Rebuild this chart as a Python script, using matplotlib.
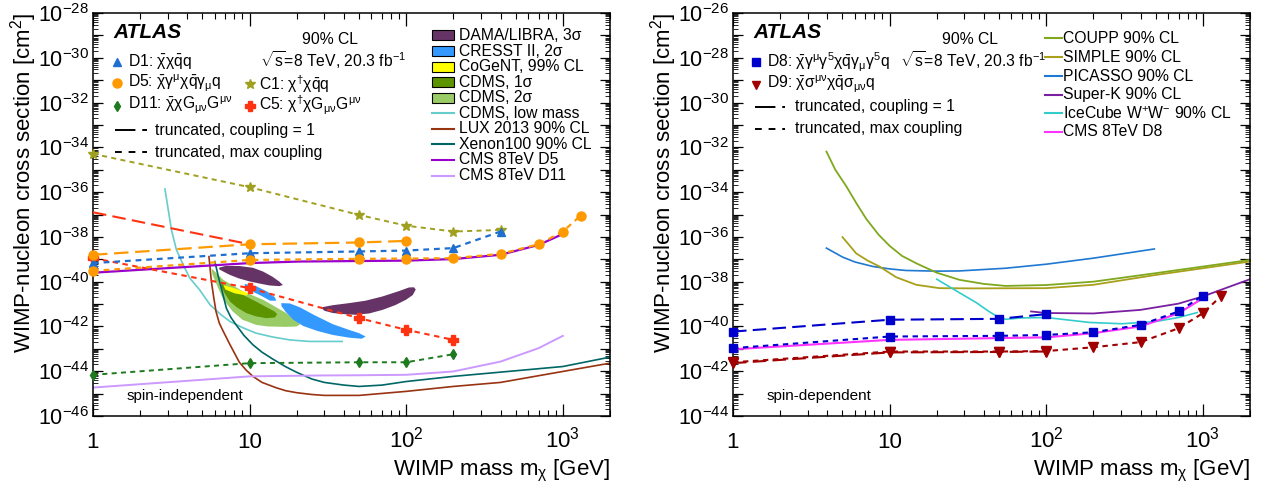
import numpy as np
import matplotlib
matplotlib.use('Agg')
import matplotlib.pyplot as plt
from matplotlib.lines import Line2D
from matplotlib.patches import Rectangle
from matplotlib.ticker import LogLocator, FixedLocator, FuncFormatter, NullFormatter

plt.rcParams['font.family'] = ['Liberation Sans', 'DejaVu Sans']
plt.rcParams['mathtext.fontset'] = 'custom'
plt.rcParams['mathtext.rm'] = 'Liberation Sans'
plt.rcParams['mathtext.it'] = 'Liberation Sans:italic'
plt.rcParams['mathtext.bf'] = 'Liberation Sans:bold'
plt.rcParams['mathtext.default'] = 'regular'

# ---------------- spin-independent (left) : log10(sigma / cm^2) ----------------
d5_c1_m = [1, 10, 50, 100]
d5_c1_s = [-38.8, -38.33, -38.25, -38.18]
d5_mx_m = [1, 10, 50, 100, 200, 400, 700, 1000, 1300]
d5_mx_s = [-39.52, -39.03, -38.98, -38.97, -38.95, -38.76, -38.33, -37.76, -37.05]
d1_mx_m = [1, 10, 50, 100, 200, 400]
d1_mx_s = [-39.17, -38.73, -38.65, -38.61, -38.5, -37.76]
c1_mx_m = [1, 10, 50, 100, 200, 400]
c1_mx_s = [-34.29, -35.78, -37.02, -37.5, -37.76, -37.69]
c5_c1_m = [1, 10]
c5_c1_s = [-36.9, -38.33]
c5_mx_m = [1, 10, 50, 100, 200]
c5_mx_s = [-38.95, -40.29, -41.63, -42.15, -42.6]
d11_mx_m = [1, 10, 50, 100, 200]
d11_mx_s = [-44.16, -43.64, -43.6, -43.6, -43.24]

cms_d5_m = [1, 10, 21, 100, 200, 400, 700, 1000]
cms_d5_s = [-39.6, -39.17, -39.1, -39.06, -38.99, -38.8, -38.36, -37.87]
cms_d11_m = [1, 10, 28, 50, 100, 200, 400, 700, 1000]
cms_d11_s = [-44.73, -44.23, -44.19, -44.18, -44.16, -44.01, -43.57, -42.97, -42.42]
lux_m = [5.5, 5.6, 5.7, 5.9, 6.1, 6.4, 6.8, 7.5, 8.6, 9.5, 10.5, 12, 14.8, 17, 20, 25, 30, 50,
         100, 200, 400, 1000, 2000]
lux_s = [-38.88, -39.45, -39.99, -40.7, -41.33, -41.85, -42.23, -42.82, -43.6, -43.95, -44.23,
         -44.5, -44.74, -44.87, -44.96, -45.04, -45.08, -45.08, -44.9, -44.68, -44.5, -44.01, -43.64]
xenon_m = [6.0, 6.3, 6.6, 7.1, 7.6, 8.2, 9.2, 10.5, 12, 14, 17, 20, 25, 30, 40, 50, 70, 100, 200,
           1000, 2000]
xenon_s = [-39.1, -39.75, -40.29, -41.18, -41.6, -41.93, -42.4, -42.82, -43.15, -43.45, -43.8,
           -44.05, -44.35, -44.5, -44.62, -44.68, -44.62, -44.46, -44.23, -43.79, -43.37]
cdms_low_m = [2.88, 3.17, 3.41, 3.8, 4.15, 4.8, 5.6, 6.5, 7.5, 9, 11, 14, 18, 24, 39]
cdms_low_s = [-35.86, -37.69, -38.58, -39.3, -39.84, -40.37, -41.04, -41.45, -41.78, -42.05,
              -42.3, -42.47, -42.6, -42.67, -42.67]

dama1_m = [6.4, 7.0, 8.6, 10.5, 12.2, 14, 15.5, 16.3, 15.5, 13.4, 11.5, 10, 8.5, 7.5, 6.8, 6.4]
dama1_s = [-39.37, -39.3, -39.3, -39.38, -39.55, -39.78, -40.0, -40.15, -40.2, -40.17, -40.08,
           -39.99, -39.85, -39.7, -39.55, -39.45]
dama2_m = [28.6, 34, 43, 55, 70.6, 90, 104, 112, 115, 110, 99.5, 85, 70.6, 58, 47.8, 40, 34, 30]
dama2_s = [-41.15, -41.05, -40.96, -40.85, -40.66, -40.42, -40.26, -40.25, -40.35, -40.6, -40.81,
           -41.05, -41.26, -41.42, -41.48, -41.45, -41.4, -41.3]
cresst1_m = [9.3, 11, 13, 14.5, 14.8, 13.5, 12, 10.5, 9.3]
cresst1_s = [-40.1, -40.2, -40.45, -40.7, -40.85, -40.85, -40.65, -40.45, -40.25]
cresst2_m = [15.9, 18, 21, 26, 34, 43, 50, 55, 52, 43, 34, 27, 22, 19, 17, 16]
cresst2_s = [-40.96, -40.97, -41.15, -41.5, -41.9, -42.15, -42.3, -42.45, -42.55, -42.5, -42.38,
             -42.2, -41.98, -41.7, -41.35, -41.1]
cogent_m = [6.8, 8, 9.0, 9.8, 9.6, 8, 7.0]
cogent_s = [-40.15, -40.3, -40.42, -40.52, -40.62, -40.52, -40.35]
cdms2_m = [5.7, 6.8, 9.1, 12.2, 17.1, 20.3, 21, 20, 17.1, 13, 11, 9, 7.8, 6.8, 6.3, 5.8]
cdms2_s = [-39.4, -39.92, -40.44, -40.81, -41.4, -41.78, -41.9, -42.0, -42.02, -42.0, -41.93,
           -41.7, -41.33, -40.8, -40.29, -39.7]
cdms1_m = [6.6, 7.5, 8.6, 11, 14.4, 15, 14.5, 12.8, 11, 9.5, 8.3, 7.5, 6.9, 6.6]
cdms1_s = [-40.07, -40.3, -40.51, -40.89, -41.33, -41.45, -41.6, -41.63, -41.55, -41.4, -41.15,
           -40.89, -40.5, -40.2]

# ---------------- spin-dependent (right) ----------------
d8_c1_m = [1, 10, 50, 100]
d8_c1_s = [-40.23, -39.7, -39.66, -39.45]
d8_mx_m = [1, 10, 50, 100, 200, 400, 700, 1000]
d8_mx_s = [-40.97, -40.45, -40.42, -40.38, -40.26, -39.93, -39.33, -38.62]
d9_c1_m = [1, 10, 50, 100]
d9_c1_s = [-41.64, -41.16, -41.14, -41.12]
d9_mx_m = [1, 10, 50, 100, 200, 400, 700, 1000, 1300]
d9_mx_s = [-41.6, -41.12, -41.12, -41.1, -40.93, -40.7, -40.08, -39.41, -38.66]
cms_d8_m = [1, 10, 50, 100, 200, 400, 700, 1000]
cms_d8_s = [-41.02, -40.6, -40.52, -40.49, -40.3, -40.0, -39.41, -38.74]
superk_m = [80, 100, 200, 400, 700, 1000, 2000]
superk_s = [-39.33, -39.4, -39.42, -39.26, -38.98, -38.66, -37.89]
icecube_m = [20, 28, 36, 43, 50, 55, 70, 100, 188, 303, 500, 700, 920]
icecube_s = [-37.89, -38.5, -38.95, -39.33, -39.6, -39.68, -39.62, -39.6, -39.82, -39.88, -39.78,
             -39.6, -39.38]
picasso_m = [3.95, 5, 6, 7.8, 10, 12.7, 20, 28, 55, 100, 200, 490]
picasso_s = [-36.5, -36.9, -37.12, -37.32, -37.43, -37.5, -37.53, -37.52, -37.4, -37.22, -36.95,
             -36.54]
coupp_m = [3.95, 4.5, 5.3, 6.2, 7.1, 8.5, 10, 12, 15, 20, 28, 40, 55, 100, 200, 500, 2000]
coupp_s = [-32.19, -33.0, -33.75, -34.55, -35.2, -35.9, -36.4, -36.85, -37.2, -37.6, -37.92,
           -38.1, -38.19, -38.15, -38.0, -37.62, -37.03]
simple_m = [5.0, 5.5, 6.1, 7.2, 8.6, 11, 14.8, 20.8, 34, 100, 200, 500, 2000]
simple_s = [-36.01, -36.35, -36.73, -37.05, -37.32, -37.8, -38.14, -38.29, -38.3, -38.29, -38.14,
            -37.7, -37.1]

W, H = 1268, 488
fig = plt.figure(figsize=(W / 100, H / 100), dpi=100)
axL = fig.add_axes([93 / W, 1 - 416 / H, 517 / W, 403 / H])
axR = fig.add_axes([733 / W, 1 - 416 / H, 517 / W, 403 / H])

LONG = (0, (6.5, 3.0))
SHORT = (0, (2.6, 2.2))


def sig(v):
    return 10.0 ** np.asarray(v)


def curve(ax, m, s, **kw):
    ax.plot(m, sig(s), **kw)


def style_axis(ax, ylo, yhi, tag):
    ax.set_xscale('log')
    ax.set_yscale('log')
    ax.set_xlim(1, 2000)
    ax.set_ylim(10.0 ** ylo, 10.0 ** yhi)
    ax.set_xticks([1, 10, 100, 1000], ['1', '10', '$10^{2}$', '$10^{3}$'], va='baseline', fontsize=16)
    ax.xaxis.set_minor_locator(LogLocator(base=10, subs=np.arange(2, 10), numticks=50))
    ax.xaxis.set_minor_formatter(NullFormatter())
    ax.yaxis.set_major_locator(FixedLocator(10.0 ** np.arange(ylo, yhi + 1)))
    ax.yaxis.set_major_formatter(FuncFormatter(
        lambda v, p: '$10^{%d}$' % round(np.log10(v)) if round(np.log10(v)) % 2 == 0 else ''))
    ax.yaxis.set_minor_locator(LogLocator(base=10, subs=np.arange(2, 10), numticks=200))
    ax.yaxis.set_minor_formatter(NullFormatter())
    ax.tick_params(axis='both', which='both', direction='in', top=True, right=True)
    ax.tick_params(axis='x', which='major', length=9, width=0.9, pad=23)
    ax.tick_params(axis='x', which='minor', length=4.5, width=0.8)
    ax.tick_params(axis='y', which='major', length=7, width=0.9, pad=3, labelsize=15.5)
    ax.tick_params(axis='y', which='minor', length=3.5, width=0.6)
    for sp in ax.spines.values():
        sp.set_linewidth(1.1)
    ax.set_xlabel(r'WIMP mass m$_{\chi}$ [GeV]', fontsize=16, loc='right')
    ax.xaxis.set_label_coords(1.0, -0.105)
    ax.set_ylabel('WIMP-nucleon cross section [cm$^{2}$]', fontsize=16, loc='top')
    ax.yaxis.set_label_coords(-0.105, 1.0)
    ax.text(0.064, 0.05, tag, transform=ax.transAxes, fontsize=11, ha='left', va='center')


# ---------------- left panel ----------------
ax = axL
ax.fill(cdms2_m, sig(cdms2_s), color='#99cc66', lw=0, zorder=1)
ax.fill(cdms1_m, sig(cdms1_s), color='#5c9400', lw=0, zorder=1.1)
ax.fill(cogent_m, sig(cogent_s), color='#ffff00', lw=0, zorder=1.2)
ax.fill(cresst1_m, sig(cresst1_s), color='#3399ff', lw=0, zorder=1.3)
ax.fill(cresst2_m, sig(cresst2_s), color='#3399ff', lw=0, zorder=1.3)
ax.fill(dama1_m, sig(dama1_s), color='#663366', lw=0, zorder=1.4)
ax.fill(dama2_m, sig(dama2_s), color='#663366', lw=0, zorder=1.4)

curve(ax, cdms_low_m, cdms_low_s, color='#66cccc', lw=1.2, zorder=1.6)
curve(ax, lux_m, lux_s, color='#993311', lw=1.2, zorder=1.7)
curve(ax, xenon_m, xenon_s, color='#006666', lw=1.2, zorder=1.7)
curve(ax, cms_d5_m, cms_d5_s, color='#9900cc', lw=1.6, zorder=1.8)
curve(ax, cms_d11_m, cms_d11_s, color='#cc99ff', lw=1.4, zorder=1.8)

curve(ax, c1_mx_m, c1_mx_s, color='#a0a020', lw=1.4, ls=SHORT, marker='*', ms=7, zorder=3, clip_on=False)
curve(ax, c5_c1_m, c5_c1_s, color='#ff3311', lw=1.5, ls=LONG, zorder=3, clip_on=False)
curve(ax, c5_mx_m, c5_mx_s, color='#ff3311', lw=1.5, ls=SHORT, marker='P', ms=6.5, zorder=3, clip_on=False)
curve(ax, d11_mx_m, d11_mx_s, color='#1f7a1f', lw=1.4, ls=SHORT, marker='d', ms=5, zorder=3, clip_on=False)
curve(ax, d1_mx_m, d1_mx_s, color='#1f6fd0', lw=1.6, ls=SHORT, marker='^', ms=6, zorder=3.1, clip_on=False)
curve(ax, d5_mx_m, d5_mx_s, color='#ff9900', lw=1.6, ls=SHORT, marker='o', ms=6.5, zorder=3.2, clip_on=False)
curve(ax, d5_c1_m, d5_c1_s, color='#ff9900', lw=1.6, ls=LONG, marker='o', ms=6.5, zorder=3.2, clip_on=False)
style_axis(ax, -46, -28, 'spin-independent')

# ---------------- right panel ----------------
ax = axR
curve(ax, picasso_m, picasso_s, color='#1f78d1', lw=1.2)
curve(ax, simple_m, simple_s, color='#a8a01a', lw=1.3)
curve(ax, coupp_m, coupp_s, color='#80a81e', lw=1.3)
curve(ax, icecube_m, icecube_s, color='#33cccc', lw=1.2)
curve(ax, superk_m, superk_s, color='#7a1fa2', lw=1.3)
curve(ax, cms_d8_m, cms_d8_s, color='#ff33ff', lw=1.5, zorder=2.5)
curve(ax, d9_mx_m, d9_mx_s, color='#a00000', lw=1.5, ls=SHORT, marker='v', ms=6.5, zorder=3, clip_on=False)
curve(ax, d9_c1_m, d9_c1_s, color='#a00000', lw=1.5, ls=LONG, marker='v', ms=6.5, zorder=3, clip_on=False)
curve(ax, d8_mx_m, d8_mx_s, color='#0000cc', lw=1.5, ls=SHORT, marker='s', ms=6, zorder=3.1, clip_on=False)
curve(ax, d8_c1_m, d8_c1_s, color='#0000cc', lw=1.5, ls=LONG, marker='s', ms=6, zorder=3.1, clip_on=False)
style_axis(ax, -44, -26, 'spin-dependent')


# ---------------- legends & labels (pixel positions) ----------------
def fx(x):
    return x / W


def fy(y):
    return 1 - y / H


def txt(x, y, s, size=11.3, **kw):
    fig.text(fx(x), fy(y), s, fontsize=size, ha='left', va='center', **kw)


def mark(x, y, **kw):
    fig.add_artist(Line2D([fx(x)], [fy(y)], transform=fig.transFigure, ls='none', **kw))


def seg(x0, x1, y, **kw):
    fig.add_artist(Line2D([fx(x0), fx(x1)], [fy(y), fy(y)], transform=fig.transFigure, **kw))


def box(x0, x1, y, color):
    fig.add_artist(Rectangle((fx(x0), fy(y + 5)), (x1 - x0) / W, 10 / H, transform=fig.transFigure,
                             facecolor=color, edgecolor='black', lw=0.8))


for x0 in (93, 733):
    txt(x0 + 20, 33, 'ATLAS', size=15, fontweight='bold', fontstyle='italic')
    fig.text(fx(x0 + 237), fy(39), '90% CL', fontsize=11.3, ha='center', va='center')
    fig.text(fx(x0 + 240), fy(60), r'$\sqrt{s}$=8 TeV, 20.3 fb$^{-1}$', fontsize=11.3,
             ha='center', va='center')

COUP1 = (0, (10.5, 3.5))
COUPMAX = (0, (3.5, 3.5))

# left ATLAS legend
mark(117, 62, marker='^', color='#1f6fd0', ms=6)
txt(128, 62, r'D1: $\bar{\chi}\chi\bar{q}q$')
mark(117, 83, marker='o', color='#ff9900', ms=6.5)
txt(128, 83, r'D5: $\bar{\chi}\gamma^{\mu}\chi\bar{q}\gamma_{\mu}q$')
mark(117, 106, marker='d', color='#1f7a1f', ms=5)
txt(128, 105, r'D11: $\bar{\chi}\chi G_{\mu\nu}G^{\mu\nu}$')
mark(250, 84, marker='*', color='#a0a020', ms=7)
txt(259, 84, r'C1: $\chi^{\dagger}\chi\bar{q}q$')
mark(250, 106, marker='P', color='#ff3311', ms=6.5)
txt(259, 105, r'C5: $\chi^{\dagger}\chi G_{\mu\nu}G^{\mu\nu}$')
seg(115, 147, 130, color='black', lw=1.4, ls=COUP1)
txt(155, 130, 'truncated, coupling = 1')
seg(115, 147, 152, color='black', lw=1.4, ls=COUPMAX)
txt(155, 152, 'truncated, max coupling')

# left experiments legend
rows = [35.3, 51, 66.7, 82.3, 97.7, 113.3, 128.5, 144.3, 160, 175.5]
box(432, 454, rows[0], '#663366')
txt(459, rows[0], 'DAMA/LIBRA, 3σ')
box(432, 454, rows[1], '#3399ff')
txt(459, rows[1], 'CRESST II, 2σ')
box(432, 454, rows[2], '#ffff00')
txt(459, rows[2], 'CoGeNT, 99% CL')
box(432, 454, rows[3], '#5c9400')
txt(459, rows[3], 'CDMS, 1σ')
box(432, 454, rows[4], '#99cc66')
txt(459, rows[4], 'CDMS, 2σ')
for r, c, lab in zip(rows[5:], ['#66cccc', '#993311', '#006666', '#9900cc', '#cc99ff'],
                     ['CDMS, low mass', 'LUX 2013 90% CL', 'Xenon100 90% CL', 'CMS 8TeV D5',
                      'CMS 8TeV D11']):
    seg(432, 454, r, color=c, lw=1.5)
    txt(459, r, lab)

# right ATLAS legend
mark(756, 62, marker='s', color='#0000cc', ms=5.5)
txt(767, 62, r'D8: $\bar{\chi}\gamma^{\mu}\gamma^{5}\chi\bar{q}\gamma_{\mu}\gamma^{5}q$')
mark(756, 85, marker='v', color='#a00000', ms=6)
txt(767, 84, r'D9: $\bar{\chi}\sigma^{\mu\nu}\chi\bar{q}\sigma_{\mu\nu}q$')
seg(755, 785, 107, color='black', lw=1.4, ls=COUP1)
txt(795, 107, 'truncated, coupling = 1')
seg(755, 785, 129, color='black', lw=1.4, ls=COUPMAX)
txt(795, 129, 'truncated, max coupling')

rrows = [38.3, 57.3, 76, 94.5, 113.3, 131.7]
for r, c, lab in zip(rrows, ['#80a81e', '#a8a01a', '#1f78d1', '#7a1fa2', '#33cccc', '#ff33ff'],
                     ['COUPP 90% CL', 'SIMPLE 90% CL', 'PICASSO 90% CL', 'Super-K 90% CL',
                      'IceCube W$^{+}$W$^{-}$ 90% CL', 'CMS 8TeV D8']):
    seg(1045, 1062, r, color=c, lw=1.5)
    txt(1063, r, lab)

fig.savefig('out.png', dpi=100)
